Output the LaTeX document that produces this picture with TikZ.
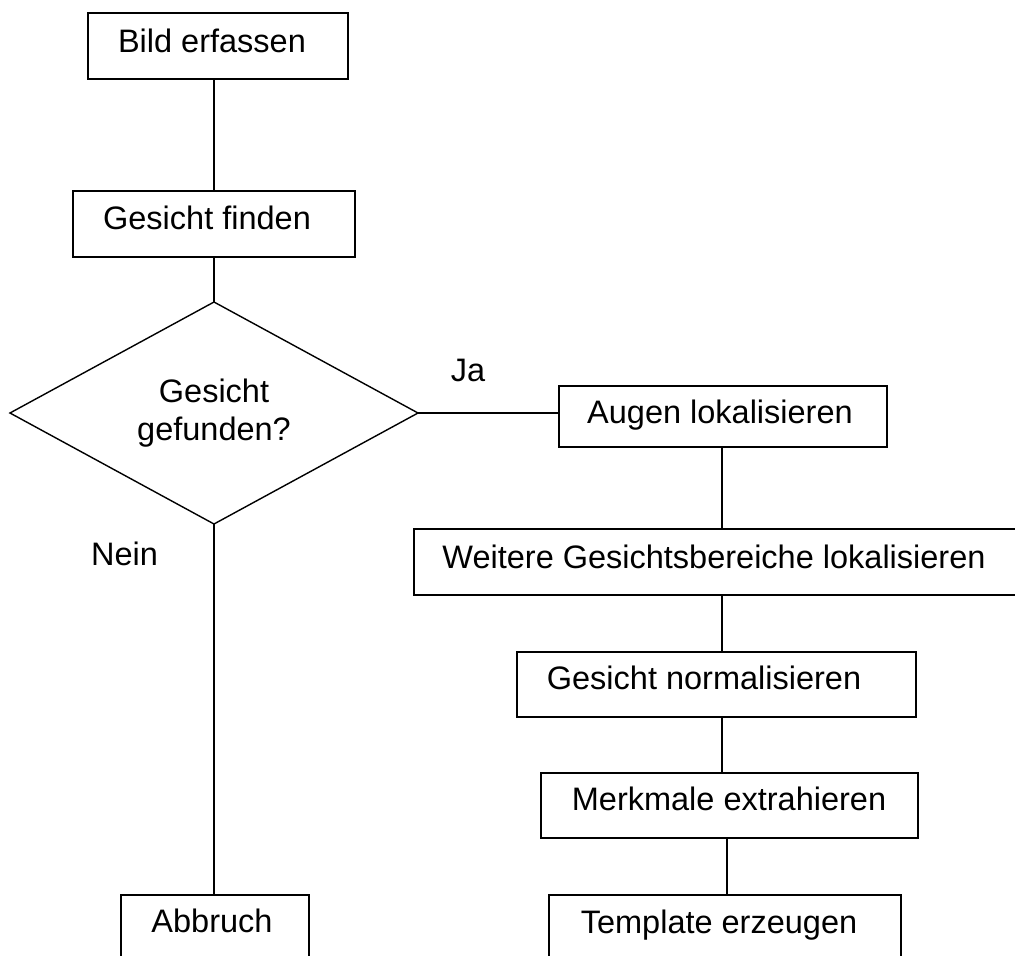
\documentclass[tikz,border=0pt]{standalone}
\usepackage{fontspec}
\setmainfont{Liberation Sans}
\usetikzlibrary{shapes.geometric,calc}
\begin{document}
\begin{tikzpicture}[x=1pt,y=-1pt,
  box/.style={draw=black,line width=1.6pt,rectangle,inner sep=0pt,outer sep=0pt},
  dec/.style={draw=black,line width=1.4pt,diamond,shape aspect=2,inner sep=0pt,outer sep=0pt,
    minimum width=408pt,minimum height=222pt,align=center,
    font=\fontsize{32.5}{38}\selectfont},
  txt/.style={inner sep=0pt,outer sep=0pt,text height=23.3pt,text depth=0pt,
    font=\fontsize{32.5}{38}\selectfont},
  link/.style={draw=black,line width=1.6pt}]
\useasboundingbox (0,0) rectangle (1015,956);
\clip (0,0) rectangle (1015,956);
% boxes
\node[box,minimum width=260pt,minimum height=66pt] (b1) at (218,46) {};
\node[box,minimum width=282pt,minimum height=66pt] (b2) at (214,224) {};
\node[dec] (dia) at (214,413) {Gesicht\\gefunden?};
\node[box,minimum width=328pt,minimum height=61pt] (aug) at (723,416.5) {};
\node[box,minimum width=616pt,minimum height=66pt] (wei) at (722,562) {};
\node[box,minimum width=399pt,minimum height=65pt] (nor) at (716.5,684.5) {};
\node[box,minimum width=377pt,minimum height=65pt] (mer) at (729.5,805.5) {};
\node[box,minimum width=352pt,minimum height=80pt] (tpl) at (725,935) {};
\node[box,minimum width=188pt,minimum height=80pt] (abb) at (215,935) {};
% texts
\node[txt] (b1t) at (212,40.5) {Bild erfassen};
\node[txt] (b2t) at (207,218) {Gesicht finden};
\node[txt] (augt) at (720,411.5) {Augen lokalisieren};
\node[txt] (weit) at (714,556.5) {Weitere Gesichtsbereiche lokalisieren};
\node[txt] (nort) at (704,677.5) {Gesicht normalisieren};
\node[txt] (mert) at (729,799) {Merkmale extrahieren};
\node[txt] (tplt) at (719,921.5) {Template erzeugen};
\node[txt] (abbt) at (212,921) {Abbruch};
\node[txt] (ja) at (468,370) {Ja};
\node[txt] (nein) at (124.5,554) {Nein};
% connectors
\draw[link] (b2.north |- b1.south) -- (b2.north);
\draw[link] (b2.south) -- (dia.north);
\draw[link] (dia.east) -- (dia.east -| aug.west);
\draw[link] (aug.south -| wei.north) -- (wei.north);
\draw[link] (wei.south) -- (wei.south |- nor.north);
\draw[link] (wei.south |- nor.south) -- (wei.south |- mer.north);
\draw[link] ([xshift=-2.5pt]mer.south) -- ([xshift=-2.5pt]mer.south |- tpl.north);
\draw[link] (dia.south) -- (dia.south |- abb.north);
\end{tikzpicture}
\end{document}
